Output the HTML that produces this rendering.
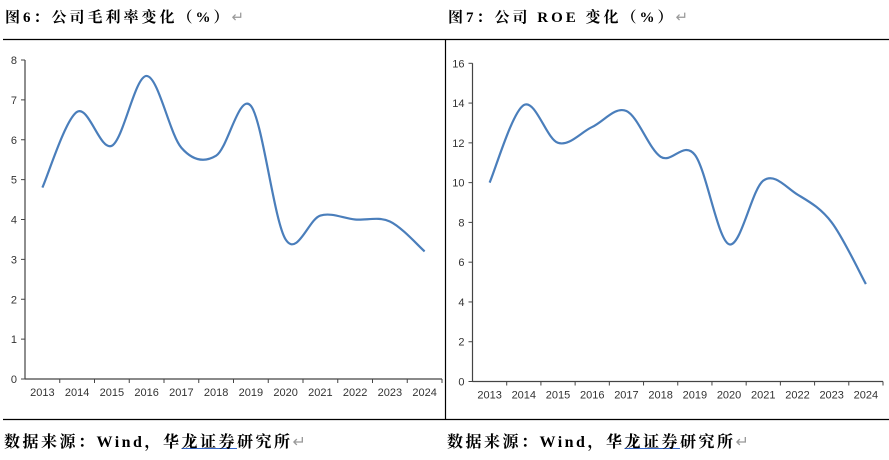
<!DOCTYPE html>
<html><head><meta charset="utf-8"><style>
body{margin:0;width:889px;height:460px;background:#fff;overflow:hidden;position:relative;font-family:"Liberation Serif","Noto Serif CJK SC",serif}
.t{position:absolute;font-weight:bold;font-size:15px;color:#000;white-space:nowrap;letter-spacing:3px}
.s{font-size:16px;letter-spacing:2.5px}
.r{color:#999;font-weight:normal}
</style></head><body>
<div class="t" style="left:5px;top:6px">图6：公司毛利率变化（%）<span class="r">↵</span></div>
<div class="t" style="left:448px;top:6px">图7：公司 ROE 变化（%）<span class="r">↵</span></div>
<div class="t s" style="left:4px;top:429px">数据来源：Wind，华<u style="text-decoration-color:#36c">龙证券</u>研究所<span class="r">↵</span></div>
<div class="t s" style="left:447px;top:429px">数据来源：Wind，华<u style="text-decoration-color:#36c">龙证券</u>研究所<span class="r">↵</span></div>
<svg id="svg" width="889" height="460" style="position:absolute;left:0;top:0">
<line x1="3" y1="39.5" x2="889" y2="39.5" stroke="#000" stroke-width="1.2"/>
<line x1="3" y1="419.5" x2="889" y2="419.5" stroke="#000" stroke-width="1.2"/>
<line x1="445.5" y1="39" x2="445.5" y2="420" stroke="#000" stroke-width="1.2"/>
<g id="g1"></g><g id="g2"></g>
</svg>
<script>
const categories=["2013","2014","2015","2016","2017","2018","2019","2020","2021","2022","2023","2024"];
const marginValues=[4.8,6.7,5.85,7.6,5.8,5.6,6.85,3.5,4.1,4.0,3.95,3.2];
const roeValues=[10,13.9,12.0,12.8,13.6,11.3,11.4,6.9,10.1,9.4,8.0,4.9];
const marginTicks=[0,1,2,3,4,5,6,7,8];
const roeTicks=[0,2,4,6,8,10,12,14,16];
const NS="http://www.w3.org/2000/svg";
function mk(t,a,p){const e=document.createElementNS(NS,t);for(const k in a)e.setAttribute(k,a[k]);p.appendChild(e);return e;}
function draw(g,cfg){
  const {x0,x1,y0,yTop,max,vals,ticks,name}=cfg;
  const bw=(x1-x0)/categories.length;
  const xs=i=>x0+bw*(i+0.5);
  const ys=v=>y0-(v/max)*(y0-yTop);
  const ax=mk('line',{x1:x0,y1:yTop,x2:x0,y2:y0,stroke:'#444','stroke-width':1.2},g);
  
  const bx=mk('line',{x1:x0,y1:y0,x2:x1,y2:y0,stroke:'#444','stroke-width':1.2},g);
  
  ticks.forEach(t=>{
    mk('line',{x1:x0-4,y1:ys(t),x2:x0,y2:ys(t),stroke:'#444'},g);
    const tx=mk('text',{x:x0-8,y:ys(t)+4,'text-anchor':'end','font-size':11,fill:'#333','font-family':'Liberation Sans, sans-serif'},g);
    tx.textContent=t;
    
  });
  categories.forEach((c,i)=>{
    mk('line',{x1:x0+bw*(i+1),y1:y0,x2:x0+bw*(i+1),y2:y0+4,stroke:'#444'},g);
    const tx=mk('text',{x:xs(i),y:y0+17,'text-anchor':'middle','font-size':11,fill:'#333','font-family':'Liberation Sans, sans-serif'},g);
    tx.textContent=c;
    
  });
  const pts=vals.map((v,i)=>[xs(i),ys(v)]);
  let d='M'+pts[0][0]+','+pts[0][1];
  for(let i=0;i<pts.length-1;i++){
    const p0=pts[Math.max(i-1,0)],p1=pts[i],p2=pts[i+1],p3=pts[Math.min(i+2,pts.length-1)];
    const k=1/6;
    d+=' C'+(p1[0]+(p2[0]-p0[0])*k)+','+(p1[1]+(p2[1]-p0[1])*k)+' '+(p2[0]-(p3[0]-p1[0])*k)+','+(p2[1]-(p3[1]-p1[1])*k)+' '+p2[0]+','+p2[1];
  }
  const ln=mk('path',{d:d,fill:'none',stroke:'#4a7ebb','stroke-width':2.2},g);
  
}
draw(document.getElementById('g1'),{x0:25,x1:442,y0:379,yTop:60,max:8,vals:marginValues,ticks:marginTicks,name:'gross-margin'});
draw(document.getElementById('g2'),{x0:472.5,x1:883,y0:381.5,yTop:63.3,max:16,vals:roeValues,ticks:roeTicks,name:'roe'});
</script>
</body></html>
